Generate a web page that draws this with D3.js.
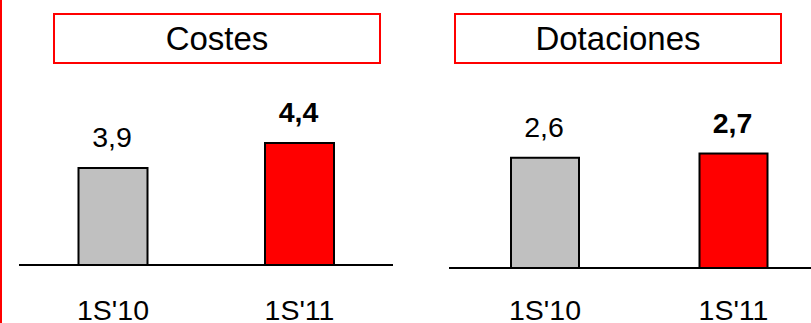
<!DOCTYPE html>
<html>
<head>
<meta charset="utf-8">
<script src="https://cdn.jsdelivr.net/npm/d3@7"></script>
<style>
    body { margin: 0; background: #fff; }
    svg { display: block; font-family: "Liberation Sans", Arial, sans-serif; }
</style>
</head>
<body>
<div id="chart"></div>
<script>
// data
const categories = ["1S'10", "1S'11"];
const costes = [3.9, 4.4];
const dotaciones = [2.6, 2.7];
const costesLabels = ["3,9", "4,4"];
const dotacionesLabels = ["2,6", "2,7"];
const titles = ["Costes", "Dotaciones"];
const costesDomain = [1.96, 5];
const dotacionesDomain = [0, 3];

const width = 811, height = 323;
const colors = ["#c0c0c0", "#ff0000"];

const panels = [
    { title: titles[0], values: costes, labels: costesLabels, domain: costesDomain,
      box: [54, 380], axisY: 265, yTop: 113, axisX: [19, 393], xRange: [113, 299.5], barW: 69 },
    { title: titles[1], values: dotaciones, labels: dotacionesLabels, domain: dotacionesDomain,
      box: [455, 781], axisY: 268, yTop: 140.8, axisX: [449, 811], xRange: [545, 733.5], barW: 68 }
];

const svg = d3.select("#chart")
    .append("svg")
    .attr("width", width)
    .attr("height", height);

// red rule on the left edge
svg.append("line")
    .attr("x1", 1).attr("x2", 1)
    .attr("y1", 0).attr("y2", height)
    .attr("stroke", "#ff0000")
    .attr("stroke-width", 2);

panels.forEach(p => {
    const g = svg.append("g");

    const xScale = d3.scalePoint()
        .domain(categories)
        .range(p.xRange);

    const yScale = d3.scaleLinear()
        .domain(p.domain)
        .range([p.axisY, p.yTop]);

    // title box
    g.append("rect")
        .attr("x", p.box[0])
        .attr("y", 14)
        .attr("width", p.box[1] - p.box[0])
        .attr("height", 49)
        .attr("fill", "#fff")
        .attr("stroke", "#ff0000")
        .attr("stroke-width", 2);

    g.append("text")
        .attr("x", (p.box[0] + p.box[1]) / 2)
        .attr("y", 49.5)
        .attr("text-anchor", "middle")
        .attr("font-size", 33)
        .attr("fill", "#000")
        .text(p.title);

    // bars
    g.selectAll(".bar")
        .data(p.values)
        .join("rect")
        .attr("class", "bar")
        .attr("x", (d, i) => xScale(categories[i]) - p.barW / 2)
        .attr("y", d => yScale(d))
        .attr("width", p.barW)
        .attr("height", d => p.axisY - yScale(d))
        .attr("fill", (d, i) => colors[i])
        .attr("stroke", "#000")
        .attr("stroke-width", 2);

    // baseline
    g.append("line")
        .attr("x1", p.axisX[0]).attr("x2", p.axisX[1])
        .attr("y1", p.axisY).attr("y2", p.axisY)
        .attr("stroke", "#000")
        .attr("stroke-width", 2);

    // value labels
    g.selectAll(".val")
        .data(p.values)
        .join("text")
        .attr("class", "val")
        .attr("x", (d, i) => xScale(categories[i]) - 1)
        .attr("y", d => yScale(d) - 21)
        .attr("text-anchor", "middle")
        .attr("font-size", 28.5)
        .attr("font-weight", (d, i) => i === 1 ? "bold" : "normal")
        .text((d, i) => p.labels[i]);

    // category labels
    g.selectAll(".cat")
        .data(categories)
        .join("text")
        .attr("class", "cat")
        .attr("x", d => xScale(d))
        .attr("y", 320)
        .attr("text-anchor", "middle")
        .attr("font-size", 28.5)
        .text(d => d);
});
</script>
</body>
</html>
